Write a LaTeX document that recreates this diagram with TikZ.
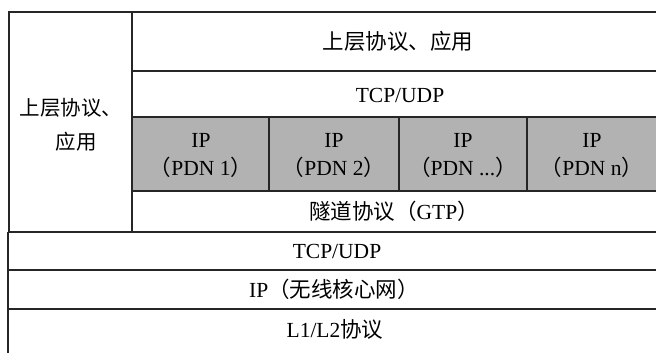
\documentclass[tikz,border=0pt]{standalone}
\usepackage{fontspec}
\setmainfont{Liberation Serif}
\newfontfamily\cjk{Noto Sans CJK SC}
\begin{document}
\begin{tikzpicture}[x=1pt,y=-1pt,
  rule/.style={line width=1.1pt,black!85},
  lbl/.style={font=\fontsize{21.5}{28}\selectfont,inner sep=0pt,anchor=center,align=center}]
\useasboundingbox (0,0) rectangle (656,353);
\clip (0,0) rectangle (656,353);
\fill[white] (0,0) rectangle (656,353);
% gray band
\fill[black!30] (132,117) rectangle (665,191);
% frame lines
\coordinate (tl) at (8,12);
\coordinate (tr) at (665,12);
\draw[rule] (tl) -- (tr);
\draw[rule] (9,12) -- (9,232);
\draw[rule] (132,12) -- (132,232);
\draw[rule] (132,71) -- (665,71);
\draw[rule] (132,117) -- (665,117);
\draw[rule] (132,191) -- (665,191);
\draw[rule] (8,232) -- (665,232);
\draw[rule] (8,270) -- (665,270);
\draw[rule] (8,309) -- (665,309);
\draw[rule] (8,232) -- (8,360);
% dividers in gray band
\draw[rule] (269,117) -- (269,191);
\draw[rule] (399,117) -- (399,191);
\draw[rule] (527,117) -- (527,191);
% texts
\node[lbl,font=\fontsize{20.5}{34}\selectfont] (left) at (71,125) {{\cjk 上层协议、}\\{\cjk \hspace*{0.5em}应用}};
\node[lbl] (app) at (398,41) {\cjk 上层协议、应用};
\node[lbl] (tcp1) at (400,95) {TCP/UDP};
\node[lbl] (pdn1) at (201,155) {IP\\{\cjk （}PDN 1{\cjk ）}};
\node[lbl] (pdn2) at (334,155) {IP\\{\cjk （}PDN 2{\cjk ）}};
\node[lbl] (pdn3) at (463,155) {IP\\{\cjk （}PDN ...{\cjk ）}};
\node[lbl] (pdnn) at (592,155) {IP\\{\cjk （}PDN n{\cjk ）}};
\node[lbl] (gtp) at (394,211) {{\cjk 隧道协议（}GTP{\cjk ）}};
\node[lbl] (tcp2) at (337,251) {TCP/UDP};
\node[lbl] (ip) at (334,289) {IP{\cjk （无线核心网）}};
\node[lbl] (l12) at (335,329) {L1/L2{\cjk 协议}};
\end{tikzpicture}
\end{document}
